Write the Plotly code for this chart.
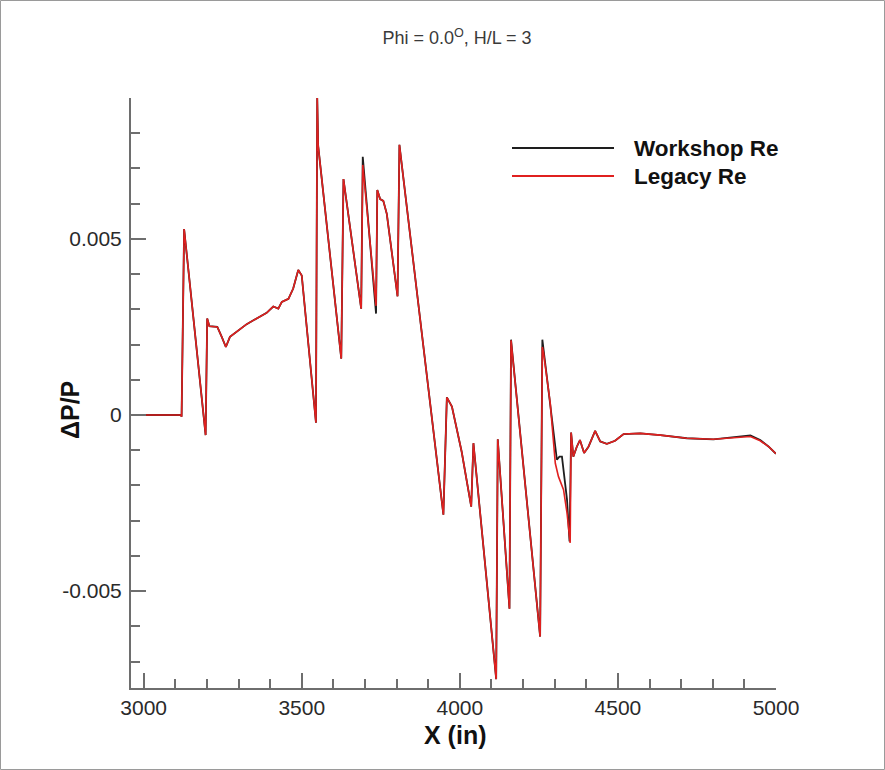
import plotly.graph_objects as go

# ---------------- data ----------------
x_legacy = [2960, 3118, 3120, 3128, 3196, 3201, 3208, 3233, 3247, 3260, 3273, 3294,
            3326, 3363, 3389, 3410, 3426, 3437, 3458, 3473, 3489, 3500, 3545, 3549,
            3552, 3625, 3632, 3688, 3693, 3735, 3739, 3748, 3758, 3769, 3803, 3809,
            3948, 3959, 3975, 4006, 4036, 4043, 4115, 4120, 4157, 4162, 4254, 4261,
            4265, 4286, 4302, 4312, 4328, 4339, 4349, 4352, 4359, 4370, 4380, 4393,
            4407, 4428, 4444, 4465, 4491, 4518, 4571, 4634, 4718, 4802, 4877, 4919,
            4950, 4977, 5000]
y_legacy = [0.0, 0.0, -0.00005, 0.00528, -0.00057, 0.00274, 0.00252, 0.0025, 0.00222,
            0.00193, 0.00222, 0.00236, 0.00258, 0.00277, 0.0029, 0.00308, 0.00302,
            0.00321, 0.0033, 0.00359, 0.00412, 0.00396, -0.00022, 0.0090, 0.00764,
            0.0016, 0.0067, 0.00302, 0.0071, 0.0031, 0.00639, 0.00613, 0.00608,
            0.00571, 0.00337, 0.00767, -0.00283, 0.0005, 0.00024, -0.00105, -0.0026,
            -0.0008, -0.0075, -0.00069, -0.0055, 0.00212, -0.00629, 0.00193, 0.00175,
            0.00033, -0.00137, -0.00175, -0.00212, -0.00278, -0.00363, -0.0005,
            -0.00118, -0.0009, -0.00071, -0.00108, -0.0009, -0.00045, -0.00075,
            -0.00082, -0.00073, -0.00054, -0.00052, -0.00057, -0.00066, -0.00069,
            -0.00063, -0.00061, -0.00073, -0.0009, -0.0011]

x_workshop = [2960, 3118, 3120, 3128, 3196, 3201, 3208, 3233, 3247, 3260, 3273, 3294,
              3326, 3363, 3389, 3410, 3426, 3437, 3458, 3473, 3489, 3500, 3545, 3549,
              3552, 3625, 3632, 3688, 3693, 3735, 3739, 3748, 3758, 3769, 3803, 3809,
              3948, 3959, 3975, 4006, 4036, 4043, 4115, 4120, 4157, 4162, 4254, 4261,
              4286, 4307, 4315, 4323, 4339, 4347, 4352, 4359, 4370, 4380, 4393,
              4407, 4428, 4444, 4465, 4491, 4518, 4571, 4634, 4718, 4802, 4877, 4919,
              4950, 4977, 5000]
y_workshop = [0.0, 0.0, -0.00005, 0.00528, -0.00057, 0.00274, 0.00252, 0.0025, 0.00222,
              0.00193, 0.00222, 0.00236, 0.00258, 0.00277, 0.0029, 0.00308, 0.00302,
              0.00321, 0.0033, 0.00359, 0.00412, 0.00396, -0.00022, 0.0090, 0.00764,
              0.0016, 0.0067, 0.00302, 0.00733, 0.00288, 0.00639, 0.00613, 0.00608,
              0.00571, 0.00337, 0.00767, -0.00283, 0.0005, 0.00024, -0.00105, -0.0026,
              -0.0008, -0.0075, -0.00069, -0.0055, 0.00214, -0.00629, 0.00214,
              0.0003, -0.00127, -0.00118, -0.00118, -0.0024, -0.00359, -0.0005,
              -0.00118, -0.0009, -0.00071, -0.00108, -0.0009, -0.00045, -0.00075,
              -0.00082, -0.00073, -0.00054, -0.00052, -0.00057, -0.00066, -0.00069,
              -0.00063, -0.00058, -0.00071, -0.0009, -0.0011]

series_names = ["Workshop Re", "Legacy Re"]
series_colors = ["#1e1e1e", "#e0201f"]

y_tickvals = [-0.005, 0, 0.005]
y_ticktext = ["-0.005", "0", "0.005"]

title_text = "Phi = 0.0<sup>O</sup>, H/L = 3"
x_title = "X (in)"
y_title = "\u0394P/P"

# ---------------- figure ----------------
FONT = "Liberation Sans, Arial, Helvetica, sans-serif"
AXC = "#6e6e6e"

fig = go.Figure()
fig.add_trace(go.Scatter(x=x_workshop, y=y_workshop, mode="lines", name=series_names[0],
                         line=dict(color=series_colors[0], width=1.8), showlegend=False))
fig.add_trace(go.Scatter(x=x_legacy, y=y_legacy, mode="lines", name=series_names[1],
                         line=dict(color=series_colors[1], width=1.6), showlegend=False))

W, H = 885, 770
L, R, T, B = 131, 109, 98, 82
pw, ph = W - L - R, H - T - B


def px2paper(px, py):
    return (px - L) / pw, (H - B - py) / ph


fig.update_layout(
    width=W, height=H,
    margin=dict(l=L, r=R, t=T, b=B),
    paper_bgcolor="white", plot_bgcolor="white",
    font=dict(family=FONT, color="#333333"),
    title=dict(text=title_text, x=457 / W, xanchor="center", y=1 - 38 / H, yanchor="middle",
               font=dict(size=18, color="#3a3a3a", family=FONT)),
    xaxis=dict(range=[2960, 5000], showgrid=False, zeroline=False,
               showline=True, linecolor=AXC, linewidth=2,
               ticks="inside", ticklen=15, tickwidth=2, tickcolor=AXC,
               tickmode="linear", tick0=3000, dtick=500,
               tickfont=dict(size=21, color="#2a2a2a", family=FONT),
               ticklabelstandoff=0,
               minor=dict(ticks="inside", ticklen=9, tickwidth=1.5, tickcolor=AXC,
                          tickmode="linear", tick0=3000, dtick=100, showgrid=False)),
    yaxis=dict(range=[-0.00775, 0.009], showgrid=False, zeroline=False,
               showline=True, linecolor=AXC, linewidth=2,
               ticks="inside", ticklen=15, tickwidth=2, tickcolor=AXC,
               tickmode="array", tickvals=y_tickvals, ticktext=y_ticktext,
               tickfont=dict(size=21, color="#2a2a2a", family=FONT),
               ticklabelstandoff=3,
               minor=dict(ticks="inside", ticklen=9, tickwidth=1.5, tickcolor=AXC,
                          tickmode="linear", tick0=0, dtick=0.001, showgrid=False)),
)

# axis titles
ax, ay = px2paper(455, 735)
fig.add_annotation(text=x_title, xref="paper", yref="paper", x=ax, y=ay,
                   showarrow=False, xanchor="center", yanchor="middle",
                   font=dict(size=25, color="#111111", family=FONT, weight="bold"))
ax, ay = px2paper(70, 410)
fig.add_annotation(text=y_title, xref="paper", yref="paper", x=ax, y=ay, textangle=-90,
                   showarrow=False, xanchor="center", yanchor="middle",
                   font=dict(size=25, color="#111111", family=FONT, weight="bold"))

# legend (drawn manually to reproduce long sample lines)
leg_y = [148, 176]
for name, color, yy in zip(series_names, series_colors, leg_y):
    x0, y0 = px2paper(512, yy)
    x1, _ = px2paper(614, yy)
    fig.add_shape(type="line", xref="paper", yref="paper", x0=x0, x1=x1, y0=y0, y1=y0,
                  line=dict(color=color, width=1.8))
    tx, _ = px2paper(632, yy)
    fig.add_annotation(text=name, xref="paper", yref="paper", x=tx, y=y0,
                       showarrow=False, xanchor="left", yanchor="middle",
                       font=dict(size=22.5, color="#111111", family=FONT, weight="bold"))

# thin frame around the whole image
fx0, fy0 = px2paper(0.5, 769.5)
fx1, fy1 = px2paper(884.5, 0.5)
fig.add_shape(type="rect", xref="paper", yref="paper", x0=fx0, x1=fx1, y0=fy0, y1=fy1,
              line=dict(color="#9a9a9a", width=1), layer="below")

fig.write_html("out.html", config={"displayModeBar": False})
